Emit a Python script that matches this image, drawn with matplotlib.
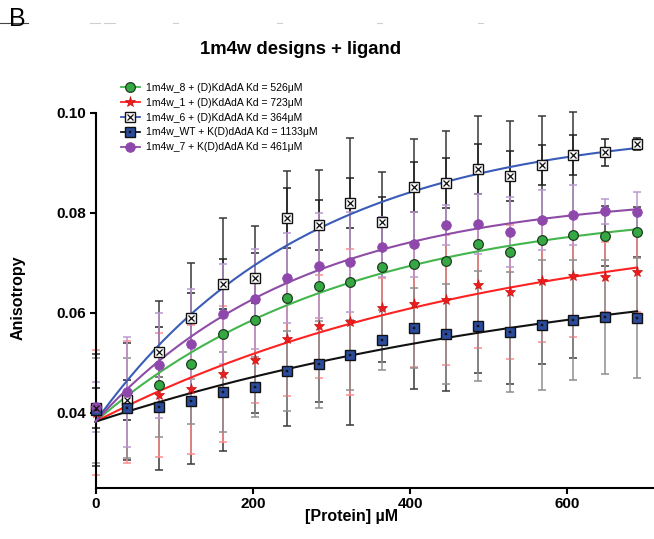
import numpy as np
import matplotlib
matplotlib.use("Agg")
import matplotlib.pyplot as plt
from matplotlib.lines import Line2D
from matplotlib.legend_handler import HandlerTuple

plt.rcParams["font.family"] = ["Liberation Sans", "DejaVu Sans"]

# Protein titration (µM)
protein_um = [0, 40.5, 81, 121.5, 162, 202.5, 243, 283.5, 324, 364.5,
              405, 445.5, 486, 526.5, 567, 607.5, 648, 688.5]

series_names = ["1m4w_8 + (D)KdAdA", "1m4w_1 + (D)KdAdA", "1m4w_6 + (D)KdAdA",
                "1m4w_WT + K(D)dAdA", "1m4w_7 + K(D)dAdA"]
kd_um = [526, 723, 364, 1133, 461]

# Mean anisotropy and SD per design
aniso_8 = [0.0405, 0.0422, 0.0455, 0.0498, 0.0557, 0.0586, 0.0629, 0.0654, 0.0662,
           0.0691, 0.0697, 0.0704, 0.0737, 0.0721, 0.0745, 0.0755, 0.0753, 0.0761]
sd_8 = [0.0112, 0.0117, 0.0169, 0.0201, 0.0233, 0.0187, 0.0255, 0.0232, 0.0287,
        0.0190, 0.0250, 0.0260, 0.0257, 0.0263, 0.0248, 0.0246, 0.0060, 0.0050]

aniso_1 = [0.0400, 0.0422, 0.0435, 0.0447, 0.0477, 0.0505, 0.0547, 0.0573, 0.0582,
           0.0609, 0.0617, 0.0625, 0.0655, 0.0641, 0.0664, 0.0674, 0.0672, 0.0681]
sd_1 = [0.0125, 0.0122, 0.0124, 0.0129, 0.0136, 0.0085, 0.0114, 0.0103, 0.0146,
        0.0060, 0.0125, 0.0130, 0.0125, 0.0134, 0.0122, 0.0123, 0.0070, 0.0080]

aniso_6 = [0.0410, 0.0425, 0.0522, 0.0590, 0.0657, 0.0670, 0.0790, 0.0775, 0.0820,
           0.0782, 0.0852, 0.0859, 0.0887, 0.0873, 0.0895, 0.0915, 0.0921, 0.0937]
sd_6 = [0.0040, 0.0040, 0.0050, 0.0050, 0.0050, 0.0050, 0.0060, 0.0050, 0.0050,
        0.0050, 0.0050, 0.0050, 0.0050, 0.0050, 0.0040, 0.0040, 0.0027, 0.0012]

aniso_wt = [0.0405, 0.0409, 0.0412, 0.0423, 0.0442, 0.0452, 0.0483, 0.0497, 0.0515,
            0.0545, 0.0570, 0.0557, 0.0573, 0.0562, 0.0575, 0.0585, 0.0591, 0.0590]
sd_wt = [0.0105, 0.0100, 0.0060, 0.0045, 0.0080, 0.0060, 0.0080, 0.0087, 0.0070,
         0.0060, 0.0080, 0.0100, 0.0110, 0.0120, 0.0130, 0.0120, 0.0114, 0.0120]

aniso_7 = [0.0412, 0.0441, 0.0495, 0.0538, 0.0597, 0.0627, 0.0669, 0.0694, 0.0702,
           0.0731, 0.0737, 0.0775, 0.0777, 0.0761, 0.0785, 0.0795, 0.0803, 0.0801]
sd_7 = [0.0050, 0.0110, 0.0105, 0.0110, 0.0100, 0.0100, 0.0090, 0.0105, 0.0100,
        0.0060, 0.0065, 0.0040, 0.0060, 0.0070, 0.0060, 0.0060, 0.0025, 0.0040]

# Shared unbound-ligand anisotropy used for the saturation fits
free_anisotropy = 0.0382


def fit_rise(x, y):
    """Least-squares fit of y = y0 + A*(1 - exp(-x/tau)) with y0 fixed."""
    x = np.asarray(x, float)
    yy = np.asarray(y, float) - free_anisotropy
    best = None
    for tau in np.linspace(40, 3000, 3000):
        g = 1 - np.exp(-x / tau)
        amp = (g @ yy) / (g @ g)
        err = np.sum((yy - amp * g) ** 2)
        if best is None or err < best[0]:
            best = (err, tau, amp)
    return best[1], best[2]


fig = plt.figure(figsize=(6.54, 5.39), dpi=100)
W, H = 654, 539
ax = fig.add_axes([95.5 / W, (H - 487.7) / H, (W - 95.5) / W, 375 / H])

x = np.asarray(protein_um)
xs = np.linspace(0, x.max(), 300)

series = [
    dict(y=aniso_8, sd=sd_8, line="#43b54d", ecolor="#383838",
         marks=[dict(marker="o", ms=7, mfc="#35a843", mec="#1f3d22", mew=0.9)]),
    dict(y=aniso_1, sd=sd_1, line="#ff2222", ecolor="#ff8c8c",
         marks=[dict(marker="*", ms=8, mfc="#ee1c1c", mec="#cc1010", mew=0.5)]),
    dict(y=aniso_6, sd=sd_6, line="#3a5cb8", ecolor="#222222",
         marks=[dict(marker="s", ms=6.5, mfc="white", mec="#111111", mew=1.0),
                dict(marker="x", ms=4.2, mfc="none", mec="#111111", mew=0.9)]),
    dict(y=aniso_wt, sd=sd_wt, line="#111111", ecolor="#8e8e8e",
         marks=[dict(marker="s", ms=6.5, mfc="#2b4b9c", mec="#111111", mew=1.0),
                dict(marker="s", ms=1.6, mfc="#111111", mec="#111111", mew=0.3)]),
    dict(y=aniso_7, sd=sd_7, line="#8e4ca6", ecolor="#bb98cf",
         marks=[dict(marker="o", ms=7, mfc="#8e47ab", mec="#8e47ab", mew=0.5)]),
]

# error bars underneath everything
for s in series:
    ax.errorbar(x, s["y"], yerr=s["sd"], fmt="none", ecolor=s["ecolor"],
                elinewidth=1.1, capsize=3, capthick=1.1, zorder=1, clip_on=False)

handles = []
for i, s in enumerate(series):
    tau, amp = fit_rise(x, s["y"])
    ax.plot(xs, free_anisotropy + amp * (1 - np.exp(-xs / tau)),
            color=s["line"], lw=1.5, zorder=3, clip_on=False)
    parts = []
    for j, m in enumerate(s["marks"]):
        ax.plot(x, s["y"], ls="none", zorder=4 + j, clip_on=False, **m)
        parts.append(Line2D([], [], color=s["line"] if j == 0 else "none",
                            lw=1.3, **m))
    handles.append(tuple(parts))

labels = [f"{n} Kd = {k}μM" for n, k in zip(series_names, kd_um)]
ax.legend(handles, labels, loc="upper left",
          bbox_to_anchor=(121 / W, 1 - 83 / H), bbox_transform=fig.transFigure,
          frameon=False, fontsize=7.5, handlelength=1.8, handletextpad=0.6,
          labelspacing=0.46, borderpad=0, borderaxespad=0,
          handler_map={tuple: HandlerTuple(ndivide=1, pad=0)})

ax.set_xlim(0, 710)
ax.set_ylim(0.025, 0.10)
ax.set_xticks([0, 200, 400, 600])
ax.set_yticks([0.04, 0.06, 0.08, 0.10])
ax.set_yticklabels([f"{v:.2f}" for v in [0.04, 0.06, 0.08, 0.10]])

for side in ("top", "right"):
    ax.spines[side].set_visible(False)
for side in ("left", "bottom"):
    ax.spines[side].set_linewidth(1.5)
ax.tick_params(axis="both", direction="out", length=4.5, width=1.5,
               labelsize=11, pad=2)
for lab in ax.get_xticklabels() + ax.get_yticklabels():
    lab.set_fontweight("bold")

fig.text(18 / W, 1 - 298 / H, "Anisotropy", rotation=90, ha="center",
         va="center", fontsize=11.5, fontweight="bold")
fig.text(352 / W, 1 - 517 / H, "[Protein] µM", ha="center", va="center",
         fontsize=11.5, fontweight="bold")
fig.text(301 / W, 1 - 50 / H, "1m4w designs + ligand", ha="center",
         va="center", fontsize=13.3, fontweight="bold")
fig.text(9 / W, 1 - 19 / H, "B", ha="left", va="center", fontsize=18,
         family=["Liberation Sans Narrow", "Liberation Sans"])

# thin rules left at the top edge of the panel
fig.add_artist(Line2D([0, 28 / W], [1 - 23 / H] * 2, color="#444444", lw=0.8,
                      transform=fig.transFigure))
for a, b in [(90, 100), (104, 115), (173, 178), (277, 282), (377, 382), (478, 483)]:
    fig.add_artist(Line2D([a / W, b / W], [1 - 23 / H] * 2, color="#cfcfcf",
                          lw=0.8, transform=fig.transFigure))

fig.savefig("out.png", dpi=100)
